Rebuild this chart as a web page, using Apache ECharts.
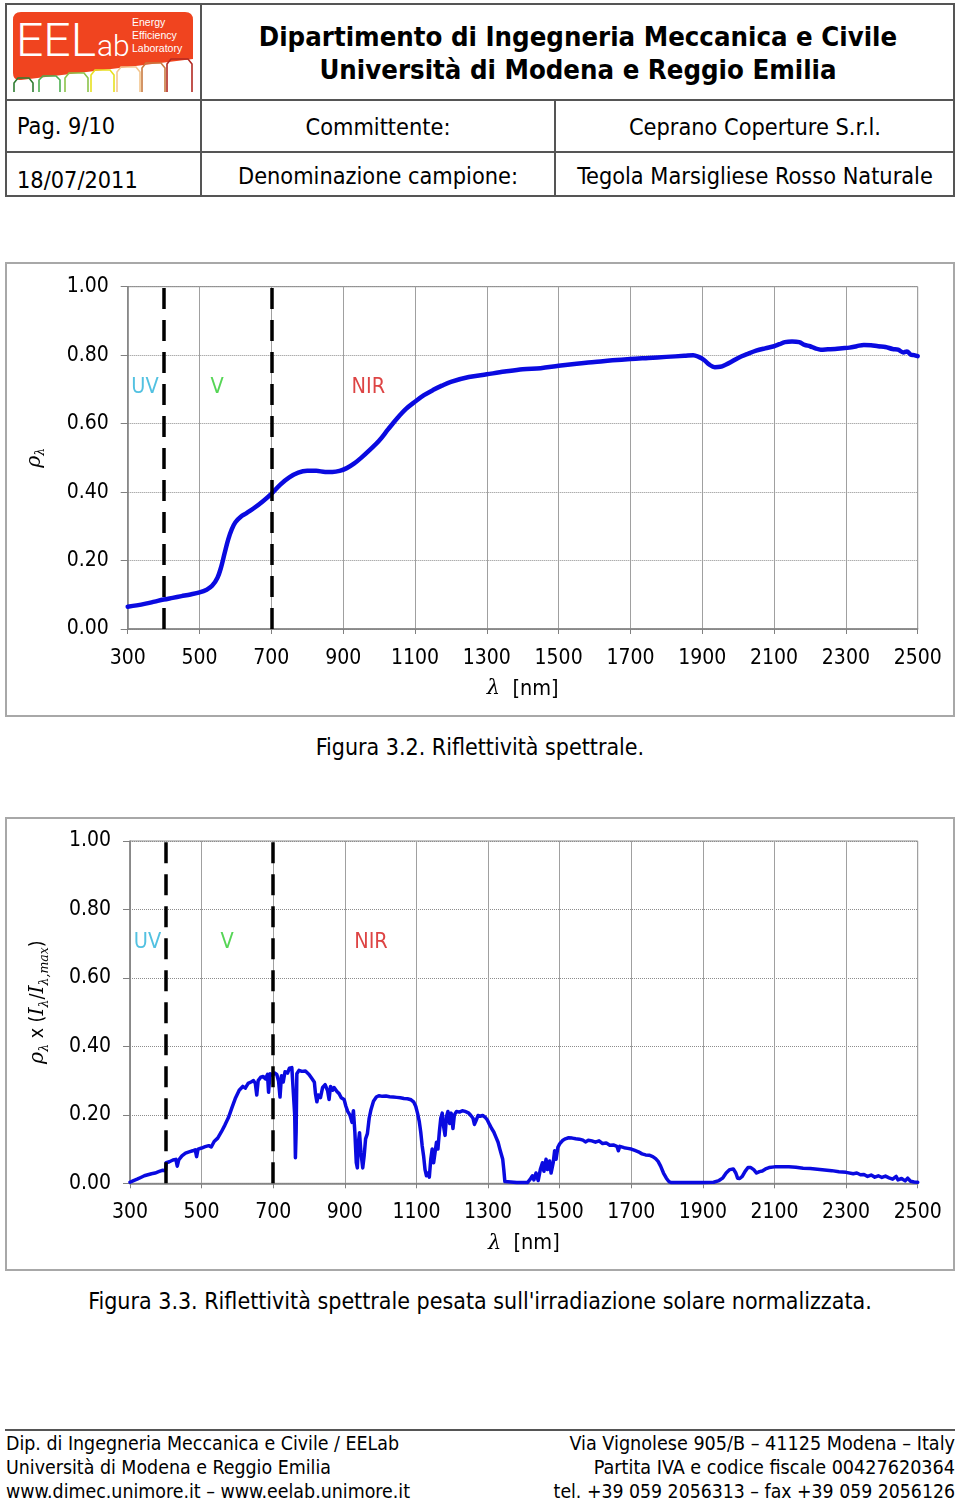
<!DOCTYPE html>
<html>
<head>
<meta charset="utf-8">
<script src="https://cdn.jsdelivr.net/npm/echarts@6/dist/echarts.min.js"></script>
<style>
  html, body { margin:0; padding:0; background:#fff; }
  body { width:960px; height:1500px; position:relative; overflow:hidden;
         font-family:"DejaVu Sans Condensed","DejaVu Sans",sans-serif; color:#000; }
  .abs { position:absolute; }
  .t { position:absolute; white-space:nowrap; line-height:1; }
  .c { transform:translate(-50%,-50%); }
  .l { transform:translate(0,-50%); }
  .r { transform:translate(-100%,-50%); }
  .hl { position:absolute; background:#555; }
  .frame { position:absolute; border:2px solid #a8a8a8; box-sizing:border-box; }
  .chart { width:100%; height:100%; }
</style>
</head>
<body>
<script>
// ---------------- data ----------------
const X_MIN = 300, X_MAX = 2500, X_STEP = 200;
const Y_MIN = 0, Y_MAX = 1, Y_STEP = 0.2;
const BAND_EDGES = [400, 700];
const BAND_NAMES = ['UV', 'V', 'NIR'];
const BAND_COLORS = ['#27b1da', '#2ccb2c', '#d41515'];
const BAND_NM_FIG1 = [348, 549, 970];
const BAND_NM_FIG2 = [349, 571, 973];
const BAND_LABEL_Y = 0.705;

// Figura 3.2 - spectral reflectance
const REFL_NM = [300,325,350,375,400,425,450,475,500,520,535,550,560,570,580,590,600,615,630,650,675,700,725,750,775,800,825,850,870,890,910,930,950,975,1000,1025,1050,1075,1100,1125,1150,1175,1200,1250,1300,1350,1400,1450,1500,1550,1600,1650,1700,1750,1800,1850,1875,1890,1905,1920,1935,1950,1965,1980,2000,2025,2050,2075,2100,2115,2130,2150,2170,2185,2200,2215,2230,2250,2270,2290,2310,2330,2350,2370,2390,2410,2430,2445,2460,2470,2480,2490,2500];
const REFL_VAL = [0.065,0.069,0.074,0.080,0.086,0.091,0.096,0.101,0.107,0.115,0.126,0.150,0.180,0.222,0.262,0.292,0.312,0.328,0.338,0.352,0.372,0.395,0.422,0.443,0.457,0.462,0.462,0.459,0.459,0.462,0.470,0.483,0.500,0.524,0.550,0.583,0.615,0.643,0.664,0.683,0.698,0.711,0.722,0.736,0.744,0.752,0.759,0.762,0.769,0.775,0.780,0.785,0.789,0.792,0.795,0.798,0.800,0.795,0.786,0.772,0.765,0.766,0.772,0.780,0.792,0.803,0.813,0.820,0.826,0.832,0.838,0.840,0.838,0.830,0.826,0.820,0.816,0.817,0.818,0.820,0.822,0.826,0.830,0.829,0.826,0.824,0.818,0.816,0.808,0.811,0.802,0.800,0.797];

// Figura 3.3 - reflectance weighted by normalised solar irradiance
const WEIGHTED_NM = [300,310,320,330,340,350,355,360,370,375,380,385,390,395,399,401,410,420,428,432,436,445,455,465,475,482,486,490,500,510,520,527,535,545,555,565,575,585,595,605,615,622,630,638,645,650,654,658,665,672,678,684,687,691,698,704,710,715,719,723,728,733,740,745,752,757,760,762,764,766,772,780,790,800,808,815,818,822,826,832,838,845,852,856,860,866,870,878,884,890,898,903,908,914,920,924,928,932,935,938,941,945,950,954,958,963,968,973,980,988,995,1005,1015,1025,1035,1045,1055,1065,1075,1085,1092,1098,1103,1108,1112,1116,1120,1124,1128,1132,1136,1140,1144,1148,1152,1156,1160,1164,1168,1172,1176,1180,1184,1188,1193,1197,1202,1206,1212,1220,1228,1236,1245,1252,1258,1262,1266,1272,1278,1285,1292,1298,1304,1310,1316,1322,1328,1333,1337,1341,1344,1347,1350,1380,1410,1418,1424,1428,1434,1440,1446,1452,1456,1462,1466,1472,1476,1482,1486,1490,1495,1500,1508,1516,1525,1535,1545,1555,1565,1572,1580,1590,1600,1610,1620,1630,1640,1650,1660,1664,1668,1680,1690,1700,1710,1720,1730,1740,1750,1760,1768,1775,1782,1790,1798,1805,1812,1850,1900,1930,1945,1955,1965,1975,1985,1992,1997,2003,2010,2018,2026,2034,2042,2050,2058,2066,2075,2085,2100,2120,2140,2160,2180,2200,2220,2240,2260,2280,2300,2320,2330,2340,2350,2360,2370,2380,2390,2400,2410,2420,2430,2440,2445,2455,2465,2472,2480,2490,2500];
const WEIGHTED_VAL = [0.003,0.008,0.012,0.017,0.022,0.025,0.022,0.028,0.030,0.027,0.034,0.031,0.038,0.033,0.037,0.060,0.063,0.068,0.070,0.050,0.068,0.080,0.088,0.092,0.095,0.098,0.078,0.100,0.103,0.107,0.110,0.106,0.122,0.132,0.150,0.170,0.192,0.222,0.250,0.272,0.283,0.278,0.292,0.296,0.300,0.292,0.258,0.300,0.310,0.312,0.305,0.318,0.266,0.320,0.316,0.322,0.318,0.298,0.252,0.314,0.296,0.326,0.322,0.336,0.338,0.336,0.200,0.075,0.150,0.320,0.330,0.327,0.328,0.318,0.306,0.295,0.262,0.238,0.258,0.250,0.280,0.288,0.270,0.245,0.283,0.272,0.280,0.268,0.262,0.250,0.245,0.225,0.210,0.200,0.178,0.212,0.150,0.060,0.045,0.120,0.148,0.090,0.045,0.080,0.130,0.145,0.190,0.215,0.240,0.252,0.256,0.254,0.255,0.253,0.252,0.251,0.250,0.248,0.247,0.244,0.238,0.225,0.205,0.180,0.150,0.110,0.080,0.040,0.022,0.030,0.018,0.070,0.100,0.060,0.090,0.120,0.100,0.150,0.190,0.205,0.165,0.140,0.195,0.210,0.175,0.205,0.160,0.200,0.210,0.208,0.212,0.210,0.206,0.198,0.190,0.172,0.182,0.198,0.196,0.198,0.193,0.185,0.172,0.160,0.150,0.135,0.120,0.100,0.085,0.070,0.040,0.005,0.002,0.002,0.002,0.012,0.022,0.010,0.030,0.008,0.040,0.060,0.035,0.070,0.040,0.065,0.030,0.060,0.095,0.070,0.105,0.115,0.125,0.130,0.133,0.132,0.130,0.129,0.126,0.121,0.126,0.124,0.120,0.124,0.116,0.118,0.111,0.112,0.108,0.095,0.108,0.104,0.102,0.100,0.096,0.092,0.086,0.083,0.082,0.078,0.072,0.064,0.050,0.030,0.015,0.005,0.002,0.002,0.002,0.003,0.008,0.015,0.030,0.040,0.042,0.030,0.015,0.014,0.020,0.035,0.046,0.046,0.040,0.030,0.034,0.036,0.042,0.046,0.048,0.048,0.048,0.047,0.044,0.043,0.041,0.039,0.037,0.034,0.032,0.028,0.030,0.025,0.026,0.020,0.024,0.018,0.022,0.017,0.021,0.016,0.012,0.020,0.010,0.014,0.007,0.015,0.006,0.004,0.003];
</script>

<!-- ============ HEADER ============ -->
<div class="abs" style="left:5px;top:3px;width:950px;height:194px;border:2px solid #555;box-sizing:border-box;"></div>
<div class="hl" style="left:5px;top:99px;width:950px;height:2px;"></div>
<div class="hl" style="left:5px;top:151px;width:950px;height:2px;"></div>
<div class="hl" style="left:200px;top:3px;width:2px;height:194px;"></div>
<div class="hl" style="left:554px;top:100px;width:2px;height:97px;"></div>

<svg class="abs" style="left:0;top:0" width="200" height="98" viewBox="0 0 200 98">
  <path d="M13 20 Q13 12 21 12 L185 12 Q193 12 193 20 L193 59 L21 80 Q13 81 13 73 Z" fill="#f0441f"/>
  <text x="16" y="56" fill="#fff" font-family="Roboto" font-weight="300" font-size="47" textLength="80" lengthAdjust="spacingAndGlyphs">EEL</text>
  <text x="97" y="56" fill="#fff" font-family="Roboto" font-weight="300" font-size="30">ab</text>
  <text x="132" y="26" fill="#fff" font-family="Liberation Sans" font-size="10.5">Energy</text>
  <text x="132" y="39" fill="#fff" font-family="Liberation Sans" font-size="10.5">Efficiency</text>
  <text x="132" y="52" fill="#fff" font-family="Liberation Sans" font-size="10.5">Laboratory</text>
  <g fill="none" stroke-width="1.6">
    <path d="M14 92 L14 83 L18 78 L29 78 L33 83 L33 92" stroke="#2f7d32"/>
    <path d="M39 92 L39 80 L43 76 L56 76 L60 80 L60 92" stroke="#4caf50"/>
    <path d="M65 92 L65 78 L69 73 L84 73 L88 78 L88 92" stroke="#8bc34a"/>
    <path d="M91 92 L91 75 L95 70 L110 70 L114 75 L114 92" stroke="#e8e020"/>
    <path d="M117 92 L117 72 L121 67 L136 67 L140 72 L140 92" stroke="#f3c68f"/>
    <path d="M142 92 L142 68 L146 63 L161 63 L165 68 L165 92" stroke="#c97a40"/>
    <path d="M167 92 L167 64 L171 59 L188 59 L192 64 L192 92" stroke="#b22a22"/>
  </g>
</svg>

<div class="t c" style="left:578px;top:37px;font-size:27.3px;font-weight:bold;">Dipartimento di Ingegneria Meccanica e Civile</div>
<div class="t c" style="left:578px;top:70px;font-size:27.3px;font-weight:bold;">Università di Modena e Reggio Emilia</div>
<div class="t l" style="left:17px;top:126px;font-size:23.3px;">Pag. 9/10</div>
<div class="t c" style="left:378px;top:127px;font-size:23.3px;">Committente:</div>
<div class="t c" style="left:755px;top:127px;font-size:23.3px;">Ceprano Coperture S.r.l.</div>
<div class="t l" style="left:17px;top:180px;font-size:23.3px;">18/07/2011</div>
<div class="t c" style="left:378px;top:176px;font-size:23.3px;">Denominazione campione:</div>
<div class="t c" style="left:755px;top:176px;font-size:23.3px;">Tegola Marsigliese Rosso Naturale</div>

<!-- ============ CHARTS ============ -->
<div class="frame" style="left:5px;top:262px;width:950px;height:455px;"><div id="c1" class="chart"></div></div>
<div class="t c" style="left:480px;top:747px;font-size:23px;">Figura 3.2. Riflettività spettrale.</div>

<div class="frame" style="left:5px;top:817px;width:950px;height:454px;"><div id="c2" class="chart"></div></div>
<div class="t c" style="left:480px;top:1301px;font-size:23px;">Figura 3.3. Riflettività spettrale pesata sull'irradiazione solare normalizzata.</div>

<!-- ============ FOOTER ============ -->
<div class="hl" style="left:5px;top:1429px;width:950px;height:1.5px;"></div>
<div class="t l" style="left:6px;top:1444px;font-size:19.4px;">Dip. di Ingegneria Meccanica e Civile / EELab</div>
<div class="t l" style="left:6px;top:1468px;font-size:19.4px;">Università di Modena e Reggio Emilia</div>
<div class="t l" style="left:6px;top:1492px;font-size:19.4px;">www.dimec.unimore.it – www.eelab.unimore.it</div>
<div class="t r" style="left:955px;top:1444px;font-size:19.6px;">Via Vignolese 905/B – 41125 Modena – Italy</div>
<div class="t r" style="left:955px;top:1468px;font-size:19.6px;">Partita IVA e codice fiscale 00427620364</div>
<div class="t r" style="left:955px;top:1492px;font-size:19.3px;">tel. +39 059 2056313 – fax +39 059 2056126</div>

<script>
const FONT = '"DejaVu Sans Condensed","DejaVu Sans",sans-serif';
const SERIF = '"DejaVu Serif","Liberation Serif",serif';
const LINE_BLUE = '#0a0ae0';

function zip(xs, ys) { return xs.map((x, i) => [x, ys[i]]); }

function buildOption(cfg) {
  return {
    animation: false,
    grid: { left: cfg.left, top: cfg.top, width: cfg.width, height: cfg.height,
            show: true, borderColor: '#8a8a8a', borderWidth: 1, containLabel: false },
    xAxis: {
      type: 'value', min: X_MIN, max: X_MAX, interval: X_STEP,
      axisLine: { show: true, onZero: false, lineStyle: { color: '#808080', width: 1.5 } },
      axisTick: { show: true, length: 5, lineStyle: { color: '#808080' } },
      axisLabel: { fontSize: 21, color: '#000', margin: 19, fontFamily: FONT,
                   formatter: v => String(v) },
      splitLine: { show: true, lineStyle: { color: '#a0a0a0', width: 1 } },
      name: '{l|λ}{n|  [nm]}', nameLocation: 'middle', nameGap: 49,
      nameTextStyle: { rich: {
        l: { fontFamily: SERIF, fontStyle: 'italic', fontSize: 21, color: '#000' },
        n: { fontFamily: FONT, fontSize: 21.5, color: '#000' } } }
    },
    yAxis: {
      type: 'value', min: Y_MIN, max: Y_MAX, interval: Y_STEP,
      axisLine: { show: true, lineStyle: { color: '#808080', width: 1.5 } },
      axisTick: { show: true, length: 7, lineStyle: { color: '#808080' } },
      axisLabel: { fontSize: 21, color: '#000', margin: 19, fontFamily: FONT,
                   formatter: v => v.toFixed(2) },
      splitLine: { show: true, lineStyle: { color: '#8c8c8c', width: 1, type: 'dotted' } },
      name: cfg.yName, nameLocation: 'middle', nameRotate: 90, nameGap: cfg.yNameGap,
      nameTextStyle: { padding: cfg.yNamePad, rich: {
        r: { fontFamily: SERIF, fontStyle: 'italic', fontSize: 20.5, lineHeight: 26, color: '#000' },
        s: { fontFamily: SERIF, fontStyle: 'italic', fontSize: 12.5, lineHeight: 15, verticalAlign: 'bottom', color: '#000' },
        n: { fontFamily: FONT, fontSize: 19.5, lineHeight: 26, color: '#000' } } }
    },
    series: [
      {
        type: 'line', data: cfg.data, showSymbol: false, smooth: cfg.smooth,
        lineStyle: { color: LINE_BLUE, width: cfg.lineWidth, join: 'round', cap: 'round' },
        z: 3,
        markLine: {
          silent: true, symbol: 'none', animation: false,
          label: { show: false },
          lineStyle: { color: '#000', width: 3.5, type: [21, 11] },
          data: BAND_EDGES.map(x => ({ xAxis: x }))
        }
      },
      {
        type: 'scatter', symbolSize: 0, silent: true, z: 4,
        data: BAND_NAMES.map((n, i) => ({
          name: n, value: [cfg.bandNm[i], BAND_LABEL_Y],
          label: { color: BAND_COLORS[i] } })),
        label: { show: true, position: 'inside', formatter: p => p.name,
                 fontSize: 21.5, fontFamily: FONT }
      }
    ]
  };
}

const c1 = echarts.init(document.getElementById('c1'), null, { renderer: 'canvas' });
c1.setOption(buildOption({
  left: 120.7, top: 22.7, width: 790, height: 342.3,
  data: zip(REFL_NM, REFL_VAL), smooth: 0.35, lineWidth: 4.5,
  bandNm: BAND_NM_FIG1,
  yName: '{r|ρ}{s|λ}', yNameGap: 80, yNamePad: [0, 0, 0, 0]
}));

const c2 = echarts.init(document.getElementById('c2'), null, { renderer: 'canvas' });
c2.setOption(buildOption({
  left: 123, top: 22, width: 787.7, height: 342.3,
  data: zip(WEIGHTED_NM, WEIGHTED_VAL), smooth: false, lineWidth: 3.5,
  bandNm: BAND_NM_FIG2,
  yName: '{r|ρ}{s|λ}{n| x (}{r|I}{s|λ}{n|/}{r|I}{s|λ,max}{n|)}', yNameGap: 79, yNamePad: [0, 0, 0, 20]
}));
</script>
</body>
</html>
